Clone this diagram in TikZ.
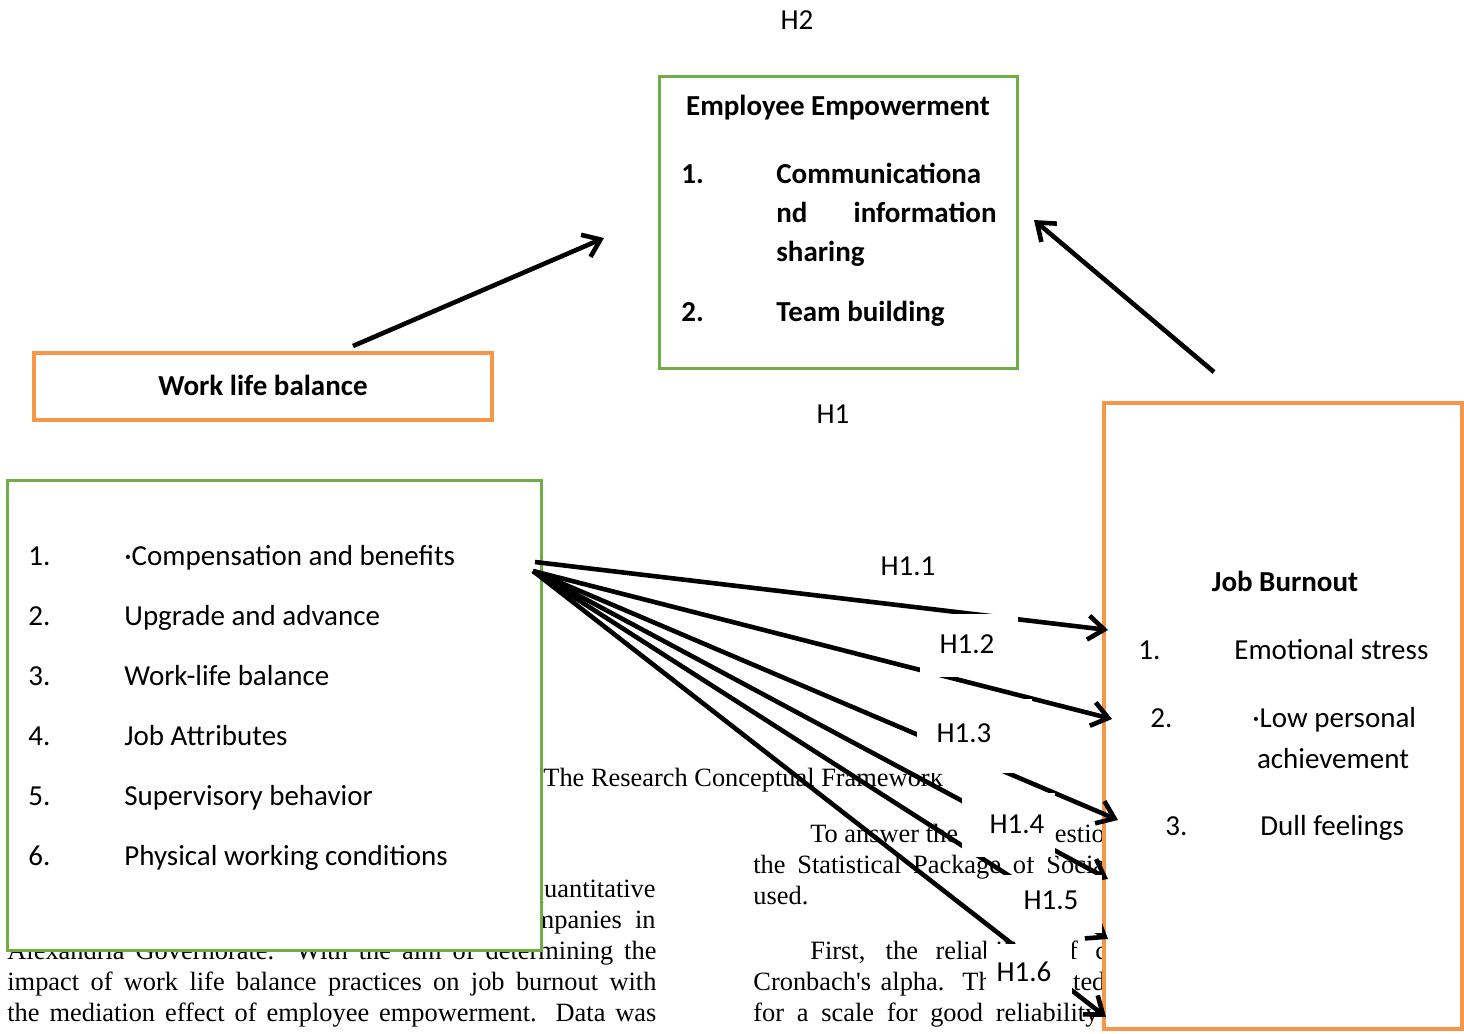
\documentclass[tikz,border=0pt]{standalone}
\usepackage{fontspec}
\setmainfont{Carlito}
\newfontfamily\pagefont{Liberation Serif}
\usetikzlibrary{arrows.meta,positioning,fit}
\definecolor{empgreen}{HTML}{70AD47}
\definecolor{burnorange}{HTML}{F79646}

\begin{document}
\begin{tikzpicture}[x=0.5pt,y=-0.5pt,
  itemtext/.style={font=\fontsize{14.5}{17}\selectfont, inner sep=0pt, anchor=base west},
  itembold/.style={itemtext, font=\fontsize{14.5}{17}\selectfont\bfseries},
  headtext/.style={font=\fontsize{14.5}{17}\selectfont\bfseries, inner sep=0pt, anchor=base},
  pagetext/.style={font=\pagefont\fontsize{13.2}{15}\selectfont, inner sep=0pt, anchor=base west},
  greenbox/.style={draw=empgreen, line width=1.5pt, fill=white, inner sep=0pt},
  orangebox/.style={draw=burnorange, line width=2pt, fill=white, inner sep=0pt},
  hyplabel/.style={font=\fontsize{14.5}{17}\selectfont, inner sep=0pt},
  hypbox/.style={fill=white, inner sep=0pt},
  hyparrow/.style={line width=2.3pt, -{Straight Barb[length=8pt,width=12pt]}}]
  \useasboundingbox (0,0) rectangle (1464,1034);

  % page text behind the figure
  \node[pagetext] (cap) at (543,786) {The Research Conceptual Framework};
  \node[pagetext, anchor=base east] (l1) at (656,897) {quantitative};
  \node[pagetext, anchor=base east] (l2) at (656,928) {companies\ \ in};
  \node[pagetext] (l3) at (7,959) {\makebox[324.5pt][s]{Alexandria Governorate. With the aim of determining the}};
  \node[pagetext] (l4) at (7,990) {\makebox[324.5pt][s]{impact of work life balance practices on job burnout with}};
  \node[pagetext] (l5) at (7,1021) {\makebox[324.5pt][s]{the mediation effect of employee empowerment. Data was}};
  \node[pagetext] (r1) at (810,842) {To answer the study questions};
  \node[pagetext] (r2) at (753,873) {\makebox[179.5pt][s]{the Statistical Package of Social}};
  \node[pagetext] (r3) at (753,904) {used.};
  \node[pagetext] (r4) at (810,959) {\makebox[196pt][s]{First, the reliability of constructs}};
  \node[pagetext] (r5) at (753,990) {\makebox[176pt][s]{Cronbach's alpha. The accepted}};
  \node[pagetext] (r6) at (753,1021) {\makebox[172.5pt][s]{for a scale for good reliability}};

  % boxes
  \node[greenbox, fit={(659,76)(1017,368)}] (emp) {};
  \node[orangebox, fit={(34,353)(492,420)}] (wlb) {};
  \node[greenbox, fit={(7,480)(541,950)}] (fac) {};
  \node[orangebox, fit={(1104,403)(1462,1029)}] (jb) {};

  \node[headtext] (emptitle) at (838,115) {Employee Empowerment};
  \node[itembold] (empn1) at (681,183) {1.};
  \node[itembold] (emp1a) at (776,183) {Communicationa};
  \node[itembold] (emp1b) at (776,222) {nd};
  \node[itembold, anchor=base east] (emp1c) at (997,222) {information};
  \node[itembold] (emp1d) at (776,261) {sharing};
  \node[itembold] (empn2) at (681,321) {2.};
  \node[itembold] (emp2) at (776,321) {Team building};

  \node[headtext] (wlbtext) at (263,395) {Work life balance};

  \foreach \txt [count=\i] in {{·Compensation and benefits},{Upgrade and advance},
    {Work-life balance},{Job Attributes},{Supervisory behavior},{Physical working conditions}}{
    \node[itemtext] (facn\i) at (28,{505+60*\i}) {\i.};
    \node[itemtext] (fac\i) at (124,{505+60*\i}) {\txt};
  }

  \node[headtext] (jbtitle) at (1285,591) {Job Burnout};
  \node[itemtext] (jbn1) at (1138,659) {1.};
  \node[itemtext] (jb1) at (1234,659) {Emotional stress};
  \node[itemtext] (jbn2) at (1150,727) {2.};
  \node[itemtext] (jb2a) at (1252,727) {·Low personal};
  \node[itemtext, anchor=base] (jb2b) at (1333,768) {achievement};
  \node[itemtext] (jbn3) at (1165,835) {3.};
  \node[itemtext] (jb3) at (1260,835) {Dull feelings};

  % hypotheses
  \node[hyplabel] (h2) at (797,20) {H2};
  \node[hyplabel] (h1) at (833,414) {H1};
  \node[hyplabel] (h11) at (908,566) {H1.1};

  \coordinate (wlbout) at (353,346);
  \coordinate (empinl) at (604,238);
  \coordinate (jbout) at (1214,372);
  \coordinate (empinr) at (1034,220);
  \coordinate (facout1) at (535,562);
  \coordinate (facout) at (533,571);
  \coordinate (jbin1) at (1108,630);
  \coordinate (jbin2) at (1112,719);
  \coordinate (jbin3) at (1118,820);
  \coordinate (jbin4) at (1108,879);
  \coordinate (jbin5) at (1108,939);
  \coordinate (jbin6) at (1106,1017);

  \draw[hyparrow] (wlbout) -- (empinl);
  \draw[hyparrow] (jbout) -- (empinr);
  \draw[hyparrow] (facout1) -- (jbin1);
  \foreach \i in {2,...,6}{
    \draw[hyparrow] (facout) -- (jbin\i);
  }

  \node[hypbox, fit={(920,614)(1018,677)}] (h12box) {};
  \node[hypbox, fit={(917,699)(1032,773)}] (h13box) {};
  \node[hypbox, fit={(962,793)(1055,857)}] (h14box) {};
  \node[hypbox, fit={(1003,875)(1102,933)}] (h15box) {};
  \node[hypbox, fit={(986,944)(1072,1000)}] (h16box) {};
  \node[hyplabel] (h12) at (967,644) {H1.2};
  \node[hyplabel] (h13) at (964,733) {H1.3};
  \node[hyplabel] (h14) at (1017,824) {H1.4};
  \node[hyplabel] (h15) at (1051,900) {H1.5};
  \node[hyplabel] (h16) at (1024,972) {H1.6};
\end{tikzpicture}
\end{document}
